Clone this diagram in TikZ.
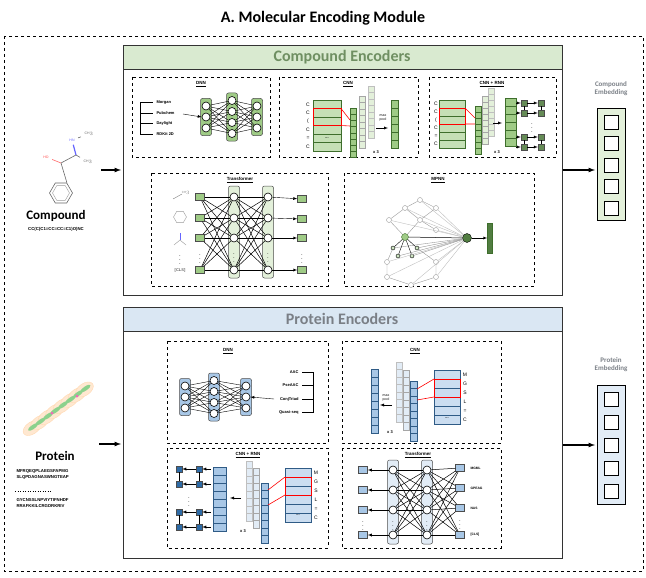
\documentclass[tikz,border=0pt]{standalone}
\usepackage{fontspec}
\setmainfont{Liberation Sans}
\newfontfamily\titlefont{Carlito}
\usetikzlibrary{arrows, shapes, positioning}
\definecolor{hdrG}{HTML}{D9EAD0}
\definecolor{txtG}{HTML}{6F8F62}
\definecolor{cellG}{HTML}{9FCB86}
\definecolor{lineG}{HTML}{3E6E2C}
\definecolor{paleG}{HTML}{E3F0DA}
\definecolor{hdrB}{HTML}{DAE7F3}
\definecolor{txtB}{HTML}{7A7F86}
\definecolor{cellB}{HTML}{A8C7E6}
\definecolor{lineB}{HTML}{2F5B86}
\definecolor{paleB}{HTML}{E2ECF6}
\definecolor{darkB}{HTML}{2E6BA6}
\tikzstyle{sub} = [draw=black, dashed, line width=0.7pt]
\tikzstyle{panel} = [draw=black!80, line width=0.9pt]
\tikzstyle{sublabel} = [font=\fontsize{4.5}{5}\selectfont\bfseries]
\tikzstyle{tiny} = [font=\fontsize{4}{4.5}\selectfont\bfseries]
\tikzstyle{neur} = [circle, draw=black, fill=white, line width=0.6pt, minimum size=8pt, inner sep=0]
\tikzstyle{lay} = [rounded corners=2pt, draw=black!70, line width=0.5pt, minimum width=11pt]
\tikzstyle{sq} = [draw=black!70, line width=0.5pt, minimum width=9pt, minimum height=7pt, inner sep=0]
\tikzstyle{arr} = [-latex, line width=1.2pt]
\tikzstyle{sarr} = [-latex, line width=0.4pt]
% column of neurons: x, ycenter, count, prefix, fill
\newcommand{\nncol}[5]{%
  \node[lay, fill=#5, minimum height={#3*11pt+4pt}] at (#1,#2) {};
  \foreach \i in {1,...,#3}
    \node[neur] (#4\i) at (#1, {#2+(\i-(#3+1)/2)*11}) {};}
% strip of cells: x, ytop, count, width, height, fill, draw
\newcommand{\cells}[7]{%
  \foreach \i in {1,...,#3}
    \draw[#7, fill=#6, line width=0.5pt] (#1, {#2+(\i-1)*#5}) rectangle ++(#4, #5);}
\begin{document}
\begin{tikzpicture}[x=1pt, y=-1pt]
\useasboundingbox (0,0) rectangle (646,578);

% title and frame
\node[font=\titlefont\fontsize{16}{17}\selectfont\bfseries] (Title) at (323,18) {A. Molecular Encoding Module};
\draw[dashed, line width=0.7pt] (4,36) rectangle (643,571);

% ---------------- compound encoders ----------------
\draw[panel] (123,45) rectangle (562,295);
\draw[panel, fill=hdrG] (123,45) rectangle (562,69);
\node[font=\titlefont\fontsize{16}{17}\selectfont\bfseries, text=txtG] (CompHdr) at (342,57) {Compound Encoders};

% DNN
\draw[sub] (132,77) rectangle (270,157);
\node[sublabel] (CDnnT) at (201,84) {\underline{DNN}};
\foreach \t [count=\k] in {Morgan, Pubchem, Daylight, RDKit 2D}
  \node[tiny, anchor=west] (fp\k) at (153, {92+\k*10.5}) {\t};
\draw[line width=0.5pt] (140,103) -- (140,134.5);
\foreach \k in {1,...,4} \draw[line width=0.5pt] (140,{92+\k*10.5}) -- (fp\k.west);
\nncol{206}{117}{3}{ca}{cellG}
\nncol{232}{117}{4}{cb}{cellG}
\nncol{257}{117}{3}{cc}{cellG}
\coordinate (CDnnIn) at (183,114);
\draw[sarr] (CDnnIn) -- (ca2.west);
\foreach \i in {1,...,3} \foreach \j in {1,...,4} {\draw[line width=0.4pt] (ca\i) -- (cb\j); \draw[line width=0.4pt] (cb\j) -- (cc\i);}

% CNN
\draw[sub] (279,77) rectangle (418,157);
\node[sublabel] (CCnnT) at (348,84) {\underline{CNN}};
\foreach \t [count=\k] in {C,C,{(},C,=,C}
  \node[tiny, font=\fontsize{5}{5}\selectfont] (cl\k) at (308, {96+\k*8.5}) {\t};
\cells{313}{100}{6}{28}{8.5}{cellG!60}{lineG}
\node[tiny] (cdots) at (327,138) {...};
\cells{368}{86}{8}{6}{6.5}{paleG}{black!25}
\cells{359}{96}{8}{6}{6.5}{paleG}{black!35}
\cells{350}{108}{8}{6}{6.2}{cellG}{lineG}
\draw[red, line width=0.6pt] (313,108.5) rectangle (341,125.5);
\draw[red, line width=0.6pt] (341,108.5) -- (350,120) (341,125.5) -- (350,126);
\node[tiny, align=center, font=\fontsize{3.5}{3.5}\selectfont] (cpool) at (383,118) {max\\pool};
\coordinate (cpa) at (376,128);
\coordinate (cpb) at (388,128);
\draw[sarr] (cpa) -- (cpb);
\cells{391}{100}{6}{7}{8}{cellG}{lineG}
\node[tiny] (cx3) at (376,152) {x 3};

% CNN + RNN
\draw[sub] (429,77) rectangle (556,157);
\node[sublabel] (CRnnT) at (492,84) {\underline{CNN + RNN}};
\foreach \t [count=\k] in {C,C,{(},C,=,C}
  \node[tiny, font=\fontsize{5}{5}\selectfont] (rl\k) at (436, {96+\k*8}) {\t};
\cells{439}{100}{6}{26}{8}{cellG!60}{lineG}
\cells{488}{88}{8}{6}{6}{paleG}{black!25}
\cells{482}{96}{8}{6}{6}{paleG}{black!35}
\cells{475}{106}{8}{6}{6}{cellG}{lineG}
\draw[red, line width=0.6pt] (439,108) rectangle (465,124);
\draw[red, line width=0.6pt] (465,108) -- (475,118) (465,124) -- (475,124);
\coordinate (rpa) at (493,123);
\coordinate (rpb) at (502,123);
\draw[sarr] (rpa) -- (rpb);
\cells{505}{98}{6}{11}{8}{cellG}{lineG}
\foreach \cx [count=\m] in {524,541} \foreach \ry [count=\n] in {103,113,137,147}
  \node[sq, fill=lineG!80, minimum width=6pt, minimum height=6pt] (g\m\n) at (\cx,\ry) {};
\foreach \ry [count=\n] in {103,113,137,147} {\draw[sarr] (g1\n) -- (g2\n); \coordinate (gin\n) at (516,\ry); \draw[sarr] (gin\n) -- (g1\n);}
\draw[line width=0.4pt] (g11) -- (g12) (g21) -- (g22) (g13) -- (g14) (g23) -- (g24);
\node[tiny] (gdots) at (532,125) {$\vdots$};
\node[tiny] (rx3) at (497,152) {x 3};

% Transformer
\draw[sub] (151,173) rectangle (328,286);
\node[sublabel] (CTrT) at (240,180) {\underline{Transformer}};
\draw[black!50, line width=0.4pt] (173,199) -- (182,194);
\node[tiny, text=black!50, font=\fontsize{3}{3}\selectfont] (ch3) at (186,193) {CH$_3$};
\node[regular polygon, regular polygon sides=6, draw=black!40, minimum size=13pt, inner sep=0] (hex) at (180,217) {};
\draw[blue!60, line width=0.5pt] (180,233) -- (180,240);
\draw[black!40, line width=0.4pt] (174,245) -- (180,240) -- (186,245);
\node[tiny] (ldots) at (180,257) {$\vdots$};
\node[tiny, text=black!60] (cls1) at (180,270) {[CLS]};
\foreach \ry [count=\n] in {197,218,238,270} \node[sq, fill=cellG] (ti\n) at (200,\ry) {};
\node[tiny] (tidots) at (200,256) {$\vdots$};
\node[lay, fill=paleG, minimum height=92pt] (tl1) at (234,232) {};
\node[lay, fill=paleG, minimum height=92pt] (tl2) at (268,232) {};
\foreach \ry [count=\n] in {197,218,238,270} {\node[neur] (ta\n) at (234,\ry) {}; \node[neur] (tb\n) at (268,\ry) {};}
\foreach \i in {1,...,4} \foreach \j in {1,...,4} {\draw[line width=0.5pt] (ti\i) -- (ta\j); \draw[line width=0.5pt] (ta\i) -- (tb\j);}
\node[tiny] (tadots) at (234,255) {$\vdots$};
\node[tiny] (tbdots) at (268,255) {$\vdots$};
\foreach \ry [count=\n] in {199,219,238,270} {\node[sq, fill=cellG] (to\n) at (302,\ry) {}; \draw[sarr] (tb\n) -- (to\n);}
\node[tiny] (todots) at (302,256) {$\vdots$};

% MPNN
\draw[sub] (344,173) rectangle (534,286);
\node[sublabel] (CMpT) at (438,180) {\underline{MPNN}};
\foreach \px/\py [count=\n] in {420/200,436/208,405/208,420/220,389/220,436/230,387/262,387/277,411/285,436/277,436/262}
  \node[circle, draw=black!40, fill=white, minimum size=5pt, inner sep=0] (m\n) at (\px,\py) {};
\node[circle, draw=lineG, fill=cellG, minimum size=7pt, inner sep=0] (mc) at (405,237) {};
\foreach \px/\py [count=\n] in {393/248,417/248,398/256,412/256}
  \node[circle, draw=black, fill=cellG!50, minimum size=4pt, inner sep=0] (md\n) at (\px,\py) {};
\node[circle, draw=black, fill=lineG!90, minimum size=9pt, inner sep=0] (mbig) at (467,238) {};
\foreach \n in {1,...,11} \draw[black!25, line width=0.4pt] (m\n) -- (mbig);
\foreach \n in {1,...,4} {\draw[black!40, line width=0.4pt] (md\n) -- (mbig); \draw[line width=0.4pt] (md\n) -- (mc);}
\draw[black!40, line width=0.4pt] (m3) -- (m1) -- (m2) (m3) -- (m4) -- (m2) (m5) -- (m3) (m4) -- (m6) (m5) -- (mc) -- (m4)
  (m7) -- (m8) -- (m9) -- (m10) -- (m11) (m7) -- (md1) (m11) -- (md2);
\draw[line width=0.5pt] (mc) -- (mbig);
\node[draw=lineG, fill=lineG!90, minimum width=5pt, minimum height=30pt, inner sep=0] (mbar) at (490,238) {};
\draw[sarr] (mbig) -- (mbar);

% compound input
\node[regular polygon, regular polygon sides=6, draw=black!60, minimum size=23pt, inner sep=0, line width=0.6pt] (benz) at (61,193) {};
\node[regular polygon, regular polygon sides=6, draw=black!40, minimum size=17pt, inner sep=0] (benzi) at (61,193) {};
\coordinate (ca1c) at (61,163);
\coordinate (ca2c) at (76,155);
\draw[black!60, line width=0.6pt] (benz.corner 1) -- (ca1c) -- (ca2c);
\node[text=red!70, font=\fontsize{3.5}{3.5}\selectfont] (HO) at (46,157) {HO};
\node[text=blue!60, font=\fontsize{3.5}{3.5}\selectfont] (HN) at (72,140) {HN};
\node[text=black!60, font=\fontsize{3.5}{3.5}\selectfont] (me1) at (89,134) {CH$_3$};
\node[text=black!60, font=\fontsize{3.5}{3.5}\selectfont] (me2) at (88,162) {CH$_3$};
\draw[red!60, line width=0.6pt] (ca1c) -- (HO);
\draw[blue!60, line width=1.2pt] (ca2c) -- (HN);
\draw[black!60, line width=0.6pt] (HN) -- (me1) (ca2c) -- (me2);
\node[font=\titlefont\fontsize{13}{14}\selectfont\bfseries] (Compound) at (56,216) {Compound};
\node[tiny, font=\fontsize{4.3}{5}\selectfont\bfseries] (smiles) at (56,229) {CC(C(C1=CC=CC=C1)O)NC};
\coordinate (cin) at (101,170);
\coordinate (cpanel) at (121,170);
\draw[arr] (cin) -- (cpanel);

% compound embedding
\node[font=\titlefont\fontsize{7}{8}\selectfont\bfseries, text=txtB, align=center] (CEmbT) at (611,89) {Compound\\Embedding};
\draw[line width=0.8pt, fill=paleG] (597,108) rectangle (625,220);
\foreach \k in {0,...,4} \node[draw, fill=white, line width=0.8pt, minimum size=14pt, inner sep=0] (ce\k) at (611,{122+\k*21.5}) {};
\coordinate (cout) at (563,170);
\coordinate (cemb) at (595,170);
\draw[arr] (cout) -- (cemb);

% ---------------- protein encoders ----------------
\draw[panel] (123,307) rectangle (562,558);
\draw[panel, fill=hdrB] (123,307) rectangle (562,331);
\node[font=\titlefont\fontsize{16}{17}\selectfont\bfseries, text=txtB] (ProtHdr) at (342,319) {Protein Encoders};

% DNN
\draw[sub] (167,341) rectangle (328,443);
\node[sublabel] (PDnnT) at (228,351) {\underline{DNN}};
\nncol{185}{397}{3}{pa}{cellB}
\nncol{214}{397}{4}{pb}{cellB}
\nncol{246}{397}{3}{pc}{cellB}
\foreach \i in {1,...,3} \foreach \j in {1,...,4} {\draw[line width=0.4pt] (pa\i) -- (pb\j); \draw[line width=0.4pt] (pb\j) -- (pc\i);}
\foreach \t [count=\k] in {AAC, PseAAC, ConjTriad, Quasi-seq}
  \node[tiny, anchor=east] (pd\k) at (302, {358.5+\k*13.5}) {\t};
\draw[line width=0.5pt] (313,372) -- (313,412.5);
\foreach \k in {1,...,4} \draw[line width=0.5pt] (pd\k.east) -- (313,{358.5+\k*13.5});
\coordinate (PDnnIn) at (274,399);
\draw[sarr] (PDnnIn) -- (pc2.east);

% CNN
\draw[sub] (342,341) rectangle (501,443);
\node[sublabel] (PCnnT) at (415,351) {\underline{CNN}};
\cells{371}{369}{8}{7}{8}{cellB}{lineB}
\node[tiny, align=center, font=\fontsize{3.5}{3.5}\selectfont] (ppool) at (386,398) {max\\pool};
\coordinate (ppa) at (392,405);
\coordinate (ppb) at (380,405);
\draw[sarr] (ppa) -- (ppb);
\cells{396}{362}{8}{6}{7.5}{paleB}{black!25}
\cells{403}{370}{8}{6}{7.5}{paleB}{black!35}
\cells{410}{381}{8}{7}{7.5}{cellB}{lineB}
\cells{434}{370}{6}{26}{9}{cellB!60}{lineB}
\node[tiny] (pdots) at (447,418) {...};
\draw[red, line width=0.6pt] (434,379) rectangle (460,397);
\draw[red, line width=0.6pt] (434,379) -- (417,389) (434,397) -- (417,400);
\foreach \t [count=\k] in {M,G,S,L,=,C}
  \node[tiny, font=\fontsize{5}{5}\selectfont] (pl\k) at (465, {366+\k*9}) {\t};
\node[tiny] (px3) at (390,432) {x 3};

% CNN + RNN
\draw[sub] (167,448) rectangle (328,548);
\node[sublabel] (PRnnT) at (248,455) {\underline{CNN + RNN}};
\foreach \cx [count=\m] in {179,199} \foreach \ry [count=\n] in {469,484,512,527}
  \node[sq, fill=darkB, minimum width=6pt, minimum height=6pt] (b\m\n) at (\cx,\ry) {};
\foreach \ry [count=\n] in {469,484,512,527} {\draw[sarr] (b2\n) -- (b1\n); \coordinate (bin\n) at (211,\ry); \draw[sarr] (bin\n) -- (b2\n);}
\draw[line width=0.4pt] (b11) -- (b12) (b21) -- (b22) (b13) -- (b14) (b23) -- (b24);
\node[tiny] (bdots) at (189,499) {$\vdots$};
\cells{213}{467}{8}{13}{8}{cellB}{lineB}
\coordinate (bpa) at (241,498);
\coordinate (bpb) at (230,498);
\draw[sarr] (bpa) -- (bpb);
\cells{246}{461}{8}{6}{7.5}{paleB}{black!25}
\cells{253}{468}{8}{6}{7.5}{paleB}{black!35}
\cells{261}{483}{8}{7}{7.5}{cellB}{lineB}
\cells{285}{468}{6}{26}{9}{cellB!60}{lineB}
\node[tiny] (bcdots) at (298,515) {...};
\draw[red, line width=0.6pt] (285,477) rectangle (311,495);
\draw[red, line width=0.6pt] (285,477) -- (268,490) (285,495) -- (268,505);
\foreach \t [count=\k] in {M,G,S,L,=,C}
  \node[tiny, font=\fontsize{5}{5}\selectfont] (bl\k) at (316, {464+\k*9}) {\t};
\node[tiny] (bx3) at (243,531) {x 3};

% Transformer
\draw[sub] (342,448) rectangle (501,548);
\node[sublabel] (PTrT) at (418,455) {\underline{Transformer}};
\node[lay, fill=paleB, minimum height=84pt] (pl1) at (393,502) {};
\node[lay, fill=paleB, minimum height=84pt] (pl2) at (427,502) {};
\foreach \ry [count=\n] in {470,490,510,535} {\node[neur] (qa\n) at (393,\ry) {}; \node[neur] (qb\n) at (427,\ry) {};}
\foreach \ry [count=\n] in {470,490,510,535} {\node[sq, fill=cellB] (qi\n) at (363,\ry) {}; \draw[sarr] (qa\n) -- (qi\n);}
\foreach \ry [count=\n] in {468,488,508,535} \node[sq, fill=cellB] (qo\n) at (460,\ry) {};
\foreach \i in {1,...,4} \foreach \j in {1,...,4} {\draw[line width=0.5pt] (qa\i) -- (qb\j); \draw[line width=0.5pt] (qb\i) -- (qo\j);}
\foreach \t/\ry [count=\n] in {MGML/468, GPEAG/488, NAS/508, {[CLS]}/535} \node[tiny, font=\fontsize{3.3}{3.5}\selectfont\bfseries, anchor=west] (qt\n) at (467,\ry) {\t};
\node[tiny] (qadots) at (393,523) {$\vdots$};
\node[tiny] (qbdots) at (427,523) {$\vdots$};
\node[tiny] (qidots) at (363,523) {$\vdots$};
\node[tiny] (qodots) at (460,522) {$\vdots$};

% protein input
\foreach \k in {0,...,7}
  \node[ellipse, fill=orange!18, draw=orange!30, minimum width=20pt, minimum height=12pt, rotate=35, inner sep=0] (pe\k) at ({32+\k*7.5},{428-\k*5.5}) {};
\foreach \k in {0,...,7}
  \node[ellipse, fill=green!60!black!45, minimum width=12pt, minimum height=4pt, rotate=35, inner sep=0] (pg\k) at ({33+\k*7.5},{427-\k*5.5}) {};
\node[circle, fill=magenta!60, minimum size=3pt, inner sep=0] (pm1) at (52,413) {};
\node[circle, fill=magenta!60, minimum size=3pt, inner sep=0] (pm2) at (77,396) {};
\node[font=\titlefont\fontsize{13}{14}\selectfont\bfseries] (Protein) at (55,456) {Protein};
\node[tiny, font=\fontsize{4.3}{5.5}\selectfont\bfseries, align=left, anchor=north west] (seq1) at (13,466) {MFRQEQPLAEGSFAPMG\\SLQPDAGNASWNGTEAP};
\draw[dotted, line width=0.5pt] (15,491) -- (52,491);
\node[tiny, font=\fontsize{4.3}{5.5}\selectfont\bfseries, align=left, anchor=north west] (seq2) at (13,495) {GYCNSSLNPVIYTIFNHDF\\RRAFKKILCRGDRKRIV};
\coordinate (pin) at (99,444);
\coordinate (ppanel) at (121,444);
\draw[arr] (pin) -- (ppanel);

% protein embedding
\node[font=\titlefont\fontsize{7}{8}\selectfont\bfseries, text=txtB, align=center] (PEmbT) at (611,365) {Protein\\Embedding};
\draw[line width=0.8pt, fill=paleB] (597,385) rectangle (625,504);
\foreach \k in {0,...,4} \node[draw, fill=white, line width=0.8pt, minimum size=14pt, inner sep=0] (pq\k) at (611,{399+\k*23}) {};
\coordinate (pout) at (563,445);
\coordinate (pemb) at (595,445);
\draw[arr] (pout) -- (pemb);
\end{tikzpicture}
\end{document}
